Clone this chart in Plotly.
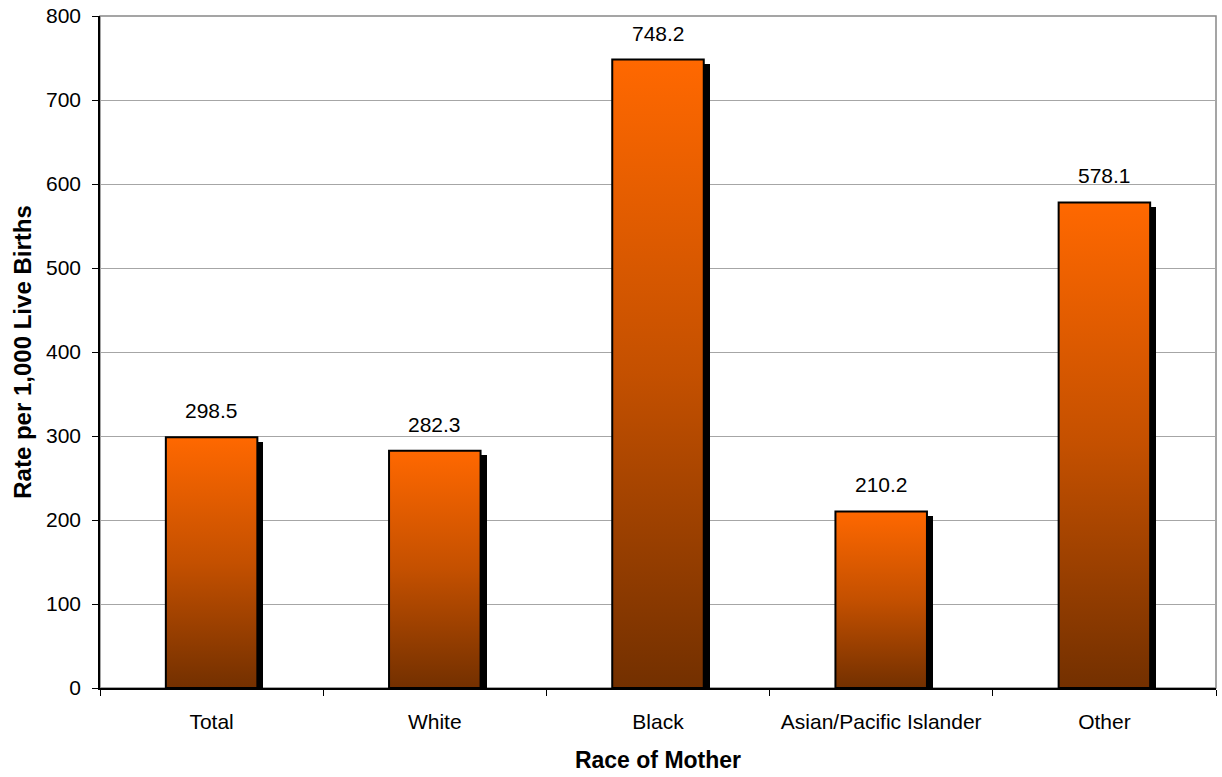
import plotly.graph_objects as go

categories = ["Total", "White", "Black", "Asian/Pacific Islander", "Other"]
rates = [298.5, 282.3, 748.2, 210.2, 578.1]
y_ticks = [0, 100, 200, 300, 400, 500, 600, 700, 800]

BAR_W = 0.41
SH_DX = 0.027
SH_DY = 5.5
FONT = "Liberation Sans, Arial, sans-serif"

fig = go.Figure()

# shadows
fig.add_trace(go.Bar(
    x=[i + SH_DX for i in range(len(categories))],
    y=[v - SH_DY for v in rates],
    width=BAR_W, marker=dict(color="black", line=dict(width=0)),
    hoverinfo="skip", showlegend=False,
))

# gradient bars
for i, v in enumerate(rates):
    x0, x1 = i - BAR_W / 2, i + BAR_W / 2
    fig.add_trace(go.Scatter(
        x=[x0, x1, x1, x0, x0], y=[0, 0, v, v, 0],
        mode="lines", fill="toself",
        line=dict(color="black", width=2),
        fillgradient=dict(type="vertical", start=0, stop=v,
                          colorscale=[[0, "#733000"], [0.5, "#C45000"], [1, "#FF6800"]]),
        hoverinfo="skip", showlegend=False,
    ))

for i, v in enumerate(rates):
    fig.add_annotation(x=i, y=v, text=f"{v:.1f}", showarrow=False,
                       yanchor="bottom", yshift=13,
                       font=dict(family=FONT, size=21, color="black"))

fig.add_shape(type="rect", xref="paper", yref="paper", x0=0, x1=1, y0=0, y1=1,
              line=dict(color="#888888", width=1.5), layer="below")

fig.update_layout(
    width=1222, height=777,
    margin=dict(l=100, r=6, t=16, b=89),
    paper_bgcolor="white", plot_bgcolor="white",
    font=dict(family=FONT, size=21, color="black"),
    bargap=0,
    xaxis=dict(
        range=[-0.5, 4.5], tickvals=list(range(len(categories))), ticktext=categories,
        ticks="outside", ticklen=0, showgrid=False, zeroline=False,
        showline=True, linecolor="black", linewidth=1.5, automargin=False,
        ticklabelstandoff=14, tickfont=dict(size=21),
        minor=dict(tickvals=[k + 0.5 for k in range(-1, len(categories))],
                   ticks="outside", ticklen=6, tickcolor="black", showgrid=False),
        title=dict(text="<b>Race of Mother</b>", font=dict(size=23), standoff=20),
        fixedrange=True,
    ),
    yaxis=dict(
        range=[0, 800], tickvals=y_ticks, ticks="outside", ticklen=6, tickcolor="black",
        ticklabelstandoff=7, tickfont=dict(size=21), ticklabeloverflow="allow",
        showgrid=True, gridcolor="#A6A6A6", gridwidth=1.2, zeroline=False,
        showline=True, linecolor="black", linewidth=1.5, automargin=False,
        title=dict(text="<b>Rate per 1,000 Live Births</b>", font=dict(size=24), standoff=8),
        fixedrange=True,
    ),
)

fig.write_html("out.html", config={"displayModeBar": False},
               post_script="document.body.style.margin='0';")
